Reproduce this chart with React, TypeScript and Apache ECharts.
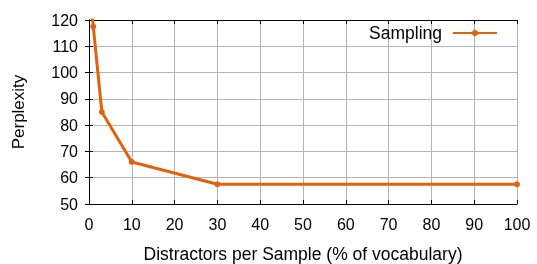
import React, { useEffect, useRef } from "react";
import * as echarts from "echarts";

const xValues = [0.5, 1, 3, 10, 30, 100];
const perplexity = [126, 117.5, 85, 66, 57.5, 57.5];
const seriesName = "Sampling";
const xTicks = [0, 10, 20, 30, 40, 50, 60, 70, 80, 90, 100];
const yTicks = [50, 60, 70, 80, 90, 100, 110, 120];

const FONT = "Liberation Sans, Arial, sans-serif";
const ORANGE = "#e0620f";

export default function App() {
  const ref = useRef<HTMLDivElement>(null);
  useEffect(() => {
    if (!ref.current) return;
    const chart = echarts.init(ref.current, null, { renderer: "svg" });
    const data = xValues.map((x, i) => [x, perplexity[i]]);
    const baseX = {
      type: "value" as const,
      min: xTicks[0],
      max: xTicks[xTicks.length - 1],
      interval: 10,
    };
    const baseY = {
      type: "value" as const,
      min: yTicks[0],
      max: yTicks[yTicks.length - 1],
      interval: 10,
    };
    chart.setOption({
      animation: false,
      grid: {
        left: 89,
        right: 20,
        top: 20,
        bottom: 60,
        containLabel: false,
        outerBoundsMode: "none",
      },
      legend: {
        data: [seriesName],
        right: 34,
        top: 19,
        align: "right",
        itemWidth: 44,
        itemHeight: 8,
        itemGap: 10,
        textStyle: {
          fontFamily: FONT,
          fontSize: 17.5,
          color: "#000",
          padding: [0, 6, 0, 0],
        },
      },
      xAxis: [
        {
          ...baseX,
          position: "bottom",
          name: "Distractors per Sample (% of vocabulary)",
          nameLocation: "middle",
          nameGap: 41,
          nameTextStyle: { fontFamily: FONT, fontSize: 17.5, color: "#000" },
          axisLine: { show: true, lineStyle: { color: "#000", width: 1 } },
          axisTick: { show: true, inside: true, length: 4, lineStyle: { color: "#000" } },
          axisLabel: { fontFamily: FONT, fontSize: 16, color: "#000", margin: 12 },
          splitLine: { show: true, lineStyle: { color: "#b4b4b4", width: 1 } },
        },
        {
          ...baseX,
          position: "top",
          axisLine: { show: true, lineStyle: { color: "#000", width: 1 } },
          axisTick: { show: true, inside: true, length: 4, lineStyle: { color: "#000" } },
          axisLabel: { show: false },
          splitLine: { show: false },
        },
      ],
      yAxis: [
        {
          ...baseY,
          position: "left",
          name: "Perplexity",
          nameLocation: "middle",
          nameGap: 62,
          nameTextStyle: { fontFamily: FONT, fontSize: 17, color: "#000" },
          axisLine: { show: true, lineStyle: { color: "#000", width: 1 } },
          axisTick: { show: true, inside: true, length: 4, lineStyle: { color: "#000" } },
          axisLabel: { fontFamily: FONT, fontSize: 16, color: "#000", margin: 11 },
          splitLine: { show: true, lineStyle: { color: "#b4b4b4", width: 1 } },
        },
        {
          ...baseY,
          position: "right",
          axisLine: { show: true, lineStyle: { color: "#000", width: 1 } },
          axisTick: { show: true, inside: true, length: 4, lineStyle: { color: "#000" } },
          axisLabel: { show: false },
          splitLine: { show: false },
        },
      ],
      series: [
        {
          name: seriesName,
          type: "line",
          data,
          xAxisIndex: 0,
          yAxisIndex: 0,
          clip: true,
          symbol: "circle",
          symbolSize: 6,
          lineStyle: { color: ORANGE, width: 3 },
          itemStyle: { color: ORANGE },
        },
      ],
    });
    return () => chart.dispose();
  }, []);
  return (
    <div
      ref={ref}
      style={{ position: "fixed", left: 0, top: 0, width: 537, height: 264 }}
    />
  );
}
